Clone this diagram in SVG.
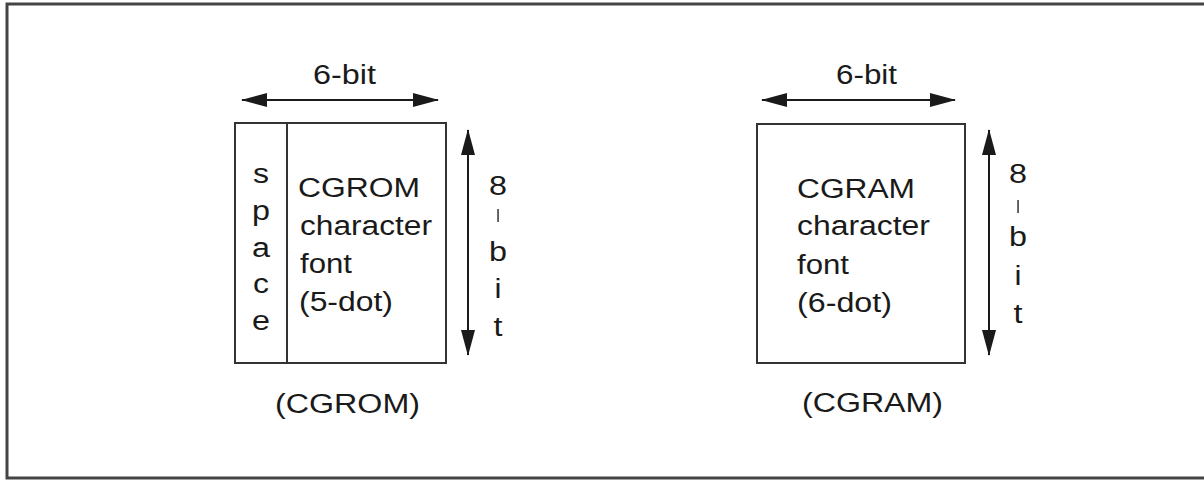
<svg xmlns="http://www.w3.org/2000/svg" width="1204" height="480" viewBox="0 0 1204 480">
<style>
text{font-family:"Liberation Sans",Arial,sans-serif;font-size:27px;fill:#1a1a1a}
.m{text-anchor:middle}
.box{fill:#fff;stroke:#333;stroke-width:2}
.conn{stroke:#1a1a1a;stroke-width:2;fill:none}
</style>
<defs>
<marker id="ah" viewBox="0 0 26 14" refX="25" refY="7" markerWidth="26" markerHeight="14" markerUnits="userSpaceOnUse" orient="auto-start-reverse">
<path d="M0,0 L26,7 L0,14 Z" fill="#1a1a1a"/>
</marker>
</defs>
<rect width="1204" height="480" fill="#fff"/>
<rect x="7" y="4" width="1220" height="474" fill="none" stroke="#444" stroke-width="3"/>

<g id="cgrom">
<rect class="box" x="235" y="123" width="211" height="240"/>
<line x1="287" y1="123" x2="287" y2="363" stroke="#333" stroke-width="2"/>
<text class="m" x="261" y="183" textLength="16" lengthAdjust="spacingAndGlyphs">s</text>
<text class="m" x="261" y="220" textLength="18" lengthAdjust="spacingAndGlyphs">p</text>
<text class="m" x="261" y="257" textLength="18" lengthAdjust="spacingAndGlyphs">a</text>
<text class="m" x="261" y="293" textLength="16" lengthAdjust="spacingAndGlyphs">c</text>
<text class="m" x="261" y="330" textLength="18" lengthAdjust="spacingAndGlyphs">e</text>
<text x="298" y="197" textLength="122" lengthAdjust="spacingAndGlyphs">CGROM</text>
<text x="300" y="235" textLength="132" lengthAdjust="spacingAndGlyphs">character</text>
<text x="300" y="273" textLength="52" lengthAdjust="spacingAndGlyphs">font</text>
<text x="299" y="311" textLength="94" lengthAdjust="spacingAndGlyphs">(5-dot)</text>
<text x="275" y="413" textLength="145" lengthAdjust="spacingAndGlyphs">(CGROM)</text>
</g>

<g id="cgram">
<rect class="box" x="757" y="124" width="208" height="239"/>
<text x="797" y="198" textLength="118" lengthAdjust="spacingAndGlyphs">CGRAM</text>
<text x="797" y="235" textLength="133" lengthAdjust="spacingAndGlyphs">character</text>
<text x="797" y="274" textLength="52" lengthAdjust="spacingAndGlyphs">font</text>
<text x="797" y="312" textLength="95" lengthAdjust="spacingAndGlyphs">(6-dot)</text>
<text x="802" y="412" textLength="141" lengthAdjust="spacingAndGlyphs">(CGRAM)</text>
</g>

<g id="dims">
<text x="313" y="84" textLength="63" lengthAdjust="spacingAndGlyphs">6-bit</text>
<text x="836" y="84" textLength="61" lengthAdjust="spacingAndGlyphs">6-bit</text>
<text class="m" x="498" y="195" textLength="18" lengthAdjust="spacingAndGlyphs">8</text>
<rect x="497.3" y="209" width="1.5" height="13" fill="#333"/>
<text class="m" x="498" y="261" textLength="18" lengthAdjust="spacingAndGlyphs">b</text>
<text class="m" x="498" y="298" textLength="7" lengthAdjust="spacingAndGlyphs">i</text>
<text class="m" x="498" y="336" textLength="9" lengthAdjust="spacingAndGlyphs">t</text>
<text class="m" x="1018" y="183" textLength="18" lengthAdjust="spacingAndGlyphs">8</text>
<rect x="1017.3" y="200" width="1.5" height="13" fill="#333"/>
<text class="m" x="1018" y="246" textLength="18" lengthAdjust="spacingAndGlyphs">b</text>
<text class="m" x="1018" y="285" textLength="7" lengthAdjust="spacingAndGlyphs">i</text>
<text class="m" x="1018" y="323" textLength="9" lengthAdjust="spacingAndGlyphs">t</text>
</g>

<g id="connectors">
<line class="conn" x1="242" y1="100" x2="438" y2="100" marker-start="url(#ah)" marker-end="url(#ah)"/>
<line class="conn" x1="762" y1="100" x2="955" y2="100" marker-start="url(#ah)" marker-end="url(#ah)"/>
<line class="conn" x1="468" y1="130" x2="468" y2="355" marker-start="url(#ah)" marker-end="url(#ah)"/>
<line class="conn" x1="989" y1="130" x2="989" y2="355" marker-start="url(#ah)" marker-end="url(#ah)"/>
</g>
</svg>
